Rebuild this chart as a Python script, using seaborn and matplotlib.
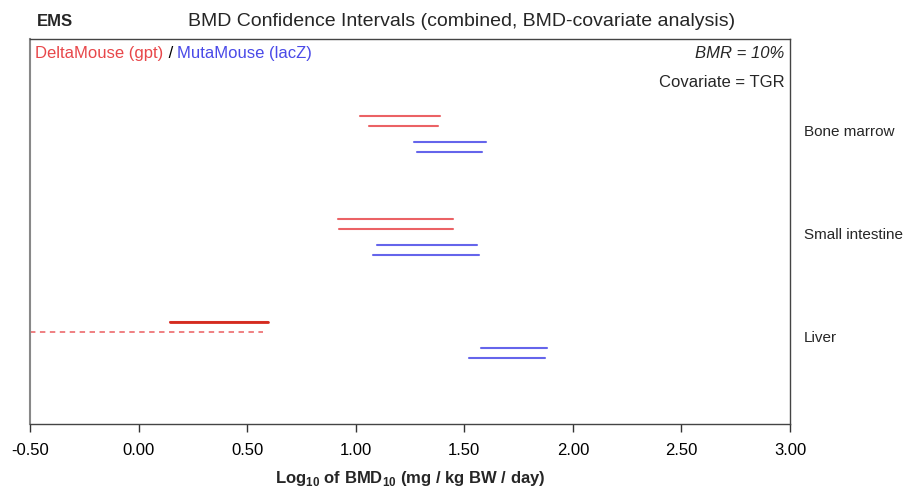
import matplotlib
matplotlib.use("Agg")
import matplotlib.pyplot as plt
import seaborn as sns
import pandas as pd
import numpy as np
from matplotlib import font_manager

# ---- data ----
tissues = ["Bone marrow", "Small intestine", "Liver"]
strains = ["DeltaMouse (gpt)", "DeltaMouse (gpt)", "MutaMouse (lacZ)", "MutaMouse (lacZ)"]
# lower / upper log10 BMD bounds per tissue (4 intervals each, top to bottom)
bm_low = [1.02, 1.06, 1.27, 1.28]
bm_high = [1.39, 1.38, 1.60, 1.58]
si_low = [0.92, 0.925, 1.10, 1.08]
si_high = [1.45, 1.45, 1.56, 1.57]
lv_low = [0.145, -0.50, 1.576, 1.52]
lv_high = [0.597, 0.574, 1.88, 1.872]
lv_dashed = [False, True, False, False]
xticks = [-0.5, 0.0, 0.5, 1.0, 1.5, 2.0, 2.5, 3.0]

sns.set_theme(style="white")
avail = {f.name for f in font_manager.fontManager.ttflist}
fam = [f for f in ["Liberation Sans Narrow", "Liberation Sans", "DejaVu Sans"] if f in avail]
plt.rcParams["font.family"] = fam
plt.rcParams["mathtext.fontset"] = "custom"
plt.rcParams["mathtext.rm"] = fam[0]
plt.rcParams["mathtext.bf"] = fam[0] + ":bold"

RED = "#e8474a"
BLUE = "#4a4ae8"
offsets = [-0.17, -0.075, 0.075, 0.175]

rows = []
lows = [bm_low, si_low, lv_low]
highs = [bm_high, si_high, lv_high]
seg = 0
for ti, t in enumerate(tissues):
    for k in range(4):
        dashed = lv_dashed[k] if t == "Liver" else False
        y = ti + 1 + offsets[k]
        for x in (lows[ti][k], highs[ti][k]):
            rows.append(dict(x=x, y=y, seg=seg, strain=strains[k],
                             kind="dashed" if dashed else "solid",
                             tissue=t))
        seg += 1
df = pd.DataFrame(rows)

fig = plt.figure(figsize=(9.09, 4.89), dpi=100)
ax = fig.add_axes([30 / 909, 64 / 489, 760 / 909, 385 / 489])

solid = df[df.kind == "solid"]
sns.lineplot(data=solid, x="x", y="y", units="seg", estimator=None, sort=False,
             hue="strain", palette={"DeltaMouse (gpt)": RED, "MutaMouse (lacZ)": BLUE},
             lw=1.5, alpha=0.85, ax=ax, legend=False)
dash = df[df.kind == "dashed"]
sns.lineplot(data=dash, x="x", y="y", units="seg", estimator=None, sort=False,
             color=RED, lw=1.3, alpha=0.75, ax=ax, legend=False)
for l in ax.lines[-1:]:
    l.set_dashes([3, 2.5])
# darker liver DeltaMouse solid line
liver_seg = df[(df.tissue == "Liver") & (df.kind == "solid") & (df.strain == "DeltaMouse (gpt)")]
sns.lineplot(data=liver_seg, x="x", y="y", units="seg", estimator=None, sort=False,
             color="#d42a1e", lw=2.0, ax=ax, legend=False)

ax.set_xlim(-0.5, 3.0)
ax.set_ylim(3.816, 0.078)
ax.set_xticks(xticks)
ax.set_xticklabels([f"{v:.2f}" for v in xticks], fontsize=12)
ax.set_yticks([])
ax.set_ylabel("")
ax.set_xlabel(r"Log$_{\mathbf{10}}$ of BMD$_{\mathbf{10}}$ (mg / kg BW / day)",
              fontsize=12, fontweight="bold", labelpad=8)
ax.tick_params(axis="x", bottom=True, direction="out", length=6, width=1,
               color="#333333", pad=7, colors="black")
for s in ax.spines.values():
    s.set_visible(True)
    s.set_color("#444444")
    s.set_linewidth(1.0)
ax.spines["left"].set_color("#888888")
ax.spines["left"].set_linewidth(1.5)

for ti, t in enumerate(tissues):
    ax.text(1.018, ti + 1 - 0.03, t, transform=ax.get_yaxis_transform(),
            fontsize=11, va="center", ha="left", clip_on=False)

fig.text(37 / 909, 1 - 22 / 489, "EMS", fontsize=12, fontweight="bold", va="center", ha="left")
fig.text(462 / 909, 1 - 21 / 489, "BMD Confidence Intervals (combined, BMD-covariate analysis)",
         fontsize=14, va="center", ha="center")

t1 = ax.text(0.007, 0.966, "DeltaMouse (gpt)", color=RED, transform=ax.transAxes,
             fontsize=12, va="center", ha="left")
fig.canvas.draw()
r = fig.canvas.get_renderer()
bb = t1.get_window_extent(r).transformed(ax.transAxes.inverted())
t2 = ax.text(bb.x1, 0.966, " / ", color="black", transform=ax.transAxes,
             fontsize=12, va="center", ha="left")
bb2 = t2.get_window_extent(r).transformed(ax.transAxes.inverted())
ax.text(bb2.x1, 0.966, "MutaMouse (lacZ)", color=BLUE, transform=ax.transAxes,
        fontsize=12, va="center", ha="left")

ax.text(0.993, 0.966, "BMR = 10%", fontstyle="italic", transform=ax.transAxes,
        fontsize=12, va="center", ha="right")
ax.text(0.993, 0.89, "Covariate = TGR", transform=ax.transAxes,
        fontsize=12, va="center", ha="right")

fig.savefig("out.png", dpi=100)
